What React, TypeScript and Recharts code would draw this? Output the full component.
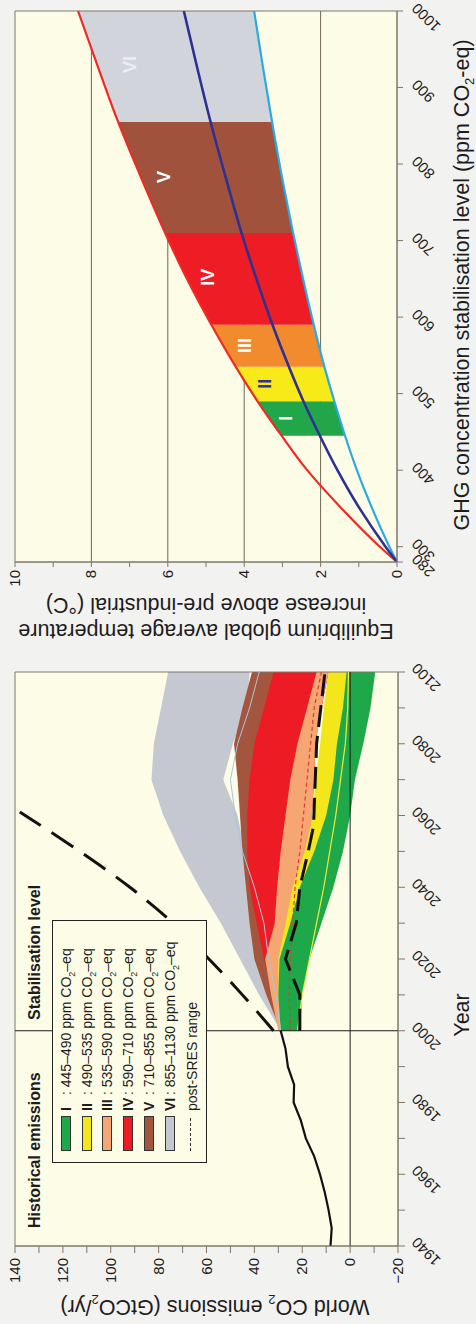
import React from 'react';
import {
  ComposedChart,
  Area,
  Line,
  XAxis,
  YAxis,
  CartesianGrid,
  ReferenceLine,
  ReferenceArea,
  Scatter,
} from 'recharts';

const FONT = '"Liberation Sans", Arial, Helvetica, sans-serif';
const INK = '#1e1c1c';
const FRAME = '#7f7868';
const GRID = '#6f6757';
const PLOT_BG = '#fdfce6';
const PAGE_BG = '#f2f2f0';

// ---------- Left panel: world CO2 emissions (GtCO2/yr) ----------
const historicalYears = [1940, 1945, 1950, 1955, 1960, 1965, 1970, 1975, 1980, 1985, 1990, 1995, 2000];
const historicalEmissions = [8.2, 7.7, 9.0, 10.6, 12.6, 15.0, 18.5, 20.6, 23.6, 23.4, 26.0, 27.0, 29.0];

const scenarioYears = [2000, 2010, 2020, 2030, 2040, 2050, 2060, 2070, 2080, 2090, 2100];
const cat6High = [29, 38, 46, 54, 63, 71, 78, 83, 82, 79, 76];
const cat6Low = [29, 32, 35, 37, 40, 44, 47, 53, 49, 43, 42];
const cat5High = [29, 35, 40, 42, 43.5, 45, 46, 47, 48.5, 45, 41];
const cat5Low = [27, 27, 27, 26, 24, 22, 19, 17, 15, 12, 9];
const cat4High = [29, 32, 36, 39, 42, 43, 43, 42, 40, 36, 32];
const cat4Low = [25, 25, 24, 22, 20, 17.5, 16, 15, 14.5, 12, 9];
const cat3High = [30, 33, 35.5, 31.5, 30.5, 29, 27, 25, 22, 18, 14];
const cat3Low = [25, 25, 24, 22, 20, 17.5, 16, 15, 14.5, 12, 9];
const cat2High = [29, 30, 30, 27, 24, 19, 15.5, 14.5, 12.5, 11, 9];
const cat2Low = [23, 22, 20, 16, 11, 7, 4, 2, 0, -1, -2];
const cat1High = [29, 30, 29.5, 25, 21, 15, 10, 7, 5.5, 3, 1.5];
const cat1Low = [21, 20, 17, 12, 7, 3, 0, -2, -5.5, -8.5, -10.5];

const cat6Median = [29, 31, 34, 36, 40, 45, 48, 50, 47, 42, 38];
const cat3Median = [25, 25.5, 25, 24, 23, 21, 19.5, 18, 16.5, 15, 12];
const cat2Median = [22, 20, 17, 14, 11, 8.5, 6, 4, 2, 1, 0.7];

const postSresLowYears = [2000, 2010, 2020, 2030, 2040, 2050, 2057, 2080, 2100];
const postSresLow = [21, 21, 27, 22.5, 21, 17.5, 15.3, 14, 10.5];
const postSresHighYears = [2000, 2010, 2020, 2030, 2040, 2050, 2061];
const postSresHigh = [32, 45, 59, 74, 92, 113, 138];

const emissionTicks = [-20, -10, 0, 10, 20, 30, 40, 50, 60, 70, 80, 90, 100, 110, 120, 130, 140];
const yearTicks = [1940, 1950, 1960, 1970, 1980, 1990, 2000, 2010, 2020, 2030, 2040, 2050, 2060, 2070, 2080, 2090, 2100];

const categoryNumerals = ['I', 'II', 'III', 'IV', 'V', 'VI'];
const categoryRanges = ['445–490', '490–535', '535–590', '590–710', '710–855', '855–1130'];
const emissionColors = ['#1fa84a', '#f3e61b', '#f5a673', '#ed1c24', '#a3553d', '#c6c8d1'];

// ---------- Right panel: equilibrium temperature vs stabilisation level ----------
const ppmLevels = [280, 300, 350, 400, 445, 490, 535, 590, 650, 710, 780, 855, 930, 1000];
const tempUpper = [0, 0.45, 1.45, 2.35, 3.02, 3.65, 4.22, 4.86, 5.5, 6.07, 6.68, 7.3, 7.85, 8.35];
const tempBest = [0, 0.3, 0.98, 1.56, 2.02, 2.45, 2.83, 3.26, 3.68, 4.07, 4.47, 4.88, 5.25, 5.58];
const tempLower = [0, 0.2, 0.65, 1.05, 1.36, 1.64, 1.9, 2.18, 2.46, 2.72, 3.0, 3.27, 3.52, 3.74];

const categoryBounds = [
  [445, 490],
  [490, 535],
  [535, 590],
  [590, 710],
  [710, 855],
  [855, 1000],
];
const tempColors = ['#21a649', '#f7ea18', '#f28a2e', '#ee1d25', '#a0523c', '#d2d4dc'];
const categoryLabelPpm = [468, 513, 563, 652, 783, 930];
const categoryLabelTemp = [2.9, 3.45, 3.98, 4.95, 6.1, 7.0];
const categoryLabelColors = ['#ffffff', '#2e3192', '#ffffff', '#ffffff', '#ffffff', '#eceef4'];

const tempTicks = [0, 1, 2, 3, 4, 5, 6, 7, 8, 9, 10];
const tempGrid = [2, 4, 6, 8];
const ppmTicks = [280, 300, 400, 500, 600, 700, 800, 900, 1000];

// ---------- table building ----------
type Col = { key: string; xs: number[]; ys: any[] };
function mergeColumns(xKey: string, cols: Col[]) {
  const map = new Map<number, any>();
  cols.forEach((c) =>
    c.xs.forEach((x, i) => {
      if (!map.has(x)) map.set(x, { [xKey]: x });
      map.get(x)[c.key] = c.ys[i];
    })
  );
  return Array.from(map.values()).sort((a, b) => a[xKey] - b[xKey]);
}
const pair = (lo: number[], hi: number[]) => lo.map((l, i) => [l, hi[i]]);

const emissionBands = [
  { key: 'c6', lo: cat6Low, hi: cat6High, color: emissionColors[5] },
  { key: 'c5', lo: cat5Low, hi: cat5High, color: emissionColors[4] },
  { key: 'c4', lo: cat4Low, hi: cat4High, color: emissionColors[3] },
  { key: 'c3', lo: cat3Low, hi: cat3High, color: emissionColors[2] },
  { key: 'c2', lo: cat2Low, hi: cat2High, color: emissionColors[1] },
  { key: 'c1', lo: cat1Low, hi: cat1High, color: emissionColors[0] },
];

const emissionRows = mergeColumns('year', [
  { key: 'hist', xs: historicalYears, ys: historicalEmissions },
  ...emissionBands.map((b) => ({ key: b.key, xs: scenarioYears, ys: pair(b.lo, b.hi) })),
  { key: 'm6', xs: scenarioYears, ys: cat6Median },
  { key: 'm3', xs: scenarioYears, ys: cat3Median },
  { key: 'm2', xs: scenarioYears, ys: cat2Median },
  { key: 'postLow', xs: postSresLowYears, ys: postSresLow },
  { key: 'postHigh', xs: postSresHighYears, ys: postSresHigh },
]);

const tempBandCols: Col[] = categoryBounds.map((b, k) => {
  const idx = ppmLevels.map((p, i) => i).filter((i) => ppmLevels[i] >= b[0] && ppmLevels[i] <= b[1]);
  return {
    key: 'b' + k,
    xs: idx.map((i) => ppmLevels[i]),
    ys: idx.map((i) => [tempLower[i], tempUpper[i]]),
  };
});

const tempRows = mergeColumns('ppm', [
  { key: 'hi', xs: ppmLevels, ys: tempUpper },
  { key: 'best', xs: ppmLevels, ys: tempBest },
  { key: 'lo', xs: ppmLevels, ys: tempLower },
  ...tempBandCols,
]);

const labelPoints = categoryNumerals.map((n, i) => ({
  ppm: categoryLabelPpm[i],
  t: categoryLabelTemp[i],
  name: n,
  color: categoryLabelColors[i],
}));

// ---------- ticks ----------
function YearTick(props: any) {
  const { x, y, payload } = props;
  const v = payload.value;
  if (v % 20 !== 0) return <g />;
  const px = x + 10;
  const py = y + 11;
  return (
    <text x={px} y={py} transform={`rotate(-45 ${px} ${py})`} textAnchor="end" fontSize={15} fontFamily={FONT} fill={INK}>
      {v}
    </text>
  );
}
function EmissionTick(props: any) {
  const { x, y, payload } = props;
  const v = payload.value;
  if (v % 20 !== 0) return <g />;
  return (
    <text x={x - 3} y={y + 5} textAnchor="end" fontSize={15} fontFamily={FONT} fill={INK}>
      {String(v).replace('-', '−')}
    </text>
  );
}
function PpmTick(props: any) {
  const { x, y, payload } = props;
  const px = x + 9;
  const py = y + 13;
  return (
    <text x={px} y={py} transform={`rotate(-45 ${px} ${py})`} textAnchor="end" fontSize={15} fontFamily={FONT} fill={INK}>
      {payload.value}
    </text>
  );
}
function TempTick(props: any) {
  const { x, y, payload } = props;
  const v = payload.value;
  if (v % 2 !== 0) return <g />;
  return (
    <text x={x - 1} y={y + 5} textAnchor="end" fontSize={15} fontFamily={FONT} fill={INK}>
      {v}
    </text>
  );
}
function BandLabel(props: any) {
  const { cx, cy, payload } = props;
  return (
    <text x={cx} y={cy} textAnchor="middle" dominantBaseline="central" fontSize={18} fontWeight="bold" fontFamily={FONT} fill={payload.color}>
      {payload.name}
    </text>
  );
}

const Sub = ({ children, size = 13 }: any) => (
  <span style={{ fontSize: size, verticalAlign: 'sub', lineHeight: 0 }}>{children}</span>
);

function EmissionsChart() {
  return (
    <div style={{ position: 'absolute', left: 0, top: 0, width: 700, height: 476 }}>
      <ComposedChart width={700} height={476} data={emissionRows} margin={{ top: 15, right: 48, bottom: 18, left: 18 }}>
        <CartesianGrid fill={PLOT_BG} horizontal={false} vertical={false} stroke="none" />
        <XAxis
          type="number"
          dataKey="year"
          domain={[1940, 2100]}
          ticks={yearTicks}
          interval={0}
          tickSize={7}
          height={60}
          allowDataOverflow
          axisLine={{ stroke: FRAME }}
          tickLine={{ stroke: FRAME }}
          tick={(p: any) => <YearTick {...p} />}
        />
        <YAxis
          type="number"
          domain={[-20, 140]}
          ticks={emissionTicks}
          interval={0}
          tickSize={7}
          width={60}
          allowDataOverflow
          axisLine={{ stroke: FRAME }}
          tickLine={{ stroke: FRAME }}
          tick={(p: any) => <EmissionTick {...p} />}
        />
        {emissionBands.map((b) => (
          <Area
            key={b.key}
            dataKey={b.key}
            type="linear"
            fill={b.color}
            fillOpacity={1}
            stroke="none"
            connectNulls
            isAnimationActive={false}
            activeDot={false}
          />
        ))}
        <Line dataKey="m6" type="linear" stroke="#a9c6de" strokeWidth={1} dot={false} activeDot={false} connectNulls isAnimationActive={false} />
        <Line dataKey="m2" type="linear" stroke="#f4ea3a" strokeWidth={1.2} dot={false} activeDot={false} connectNulls isAnimationActive={false} />
        <Line dataKey="m3" type="linear" stroke="#e8382c" strokeWidth={1.2} strokeDasharray="4 3" dot={false} activeDot={false} connectNulls isAnimationActive={false} />
        <ReferenceLine y={0} stroke={INK} strokeWidth={1} />
        <ReferenceLine x={2000} stroke={INK} strokeWidth={1} />
        <Line dataKey="postLow" type="linear" stroke="#111" strokeWidth={3} strokeDasharray="22 9" dot={false} activeDot={false} connectNulls isAnimationActive={false} />
        <Line dataKey="postHigh" type="monotone" stroke="#111" strokeWidth={3} strokeDasharray="26 13" dot={false} activeDot={false} connectNulls isAnimationActive={false} />
        <Line dataKey="hist" type="linear" stroke="#111" strokeWidth={2.2} dot={false} activeDot={false} isAnimationActive={false} />
        <ReferenceArea x1={1940} x2={2100} y1={-20} y2={140} fill="none" stroke={FRAME} strokeWidth={1} />
      </ComposedChart>
    </div>
  );
}

function TemperatureChart() {
  return (
    <div style={{ position: 'absolute', left: 700, top: 0, width: 624, height: 476 }}>
      <ComposedChart width={624} height={476} data={tempRows} margin={{ top: 15, right: 11, bottom: 19, left: 12 }}>
        <CartesianGrid fill={PLOT_BG} vertical={false} stroke={GRID} strokeWidth={1} horizontalValues={tempGrid} />
        <XAxis
          type="number"
          dataKey="ppm"
          domain={[280, 1000]}
          ticks={ppmTicks}
          interval={0}
          tickSize={6}
          height={60}
          allowDataOverflow
          axisLine={{ stroke: FRAME }}
          tickLine={{ stroke: FRAME }}
          tick={(p: any) => <PpmTick {...p} />}
        />
        <YAxis
          type="number"
          dataKey="t"
          domain={[0, 10]}
          ticks={tempTicks}
          interval={0}
          tickSize={5}
          width={50}
          allowDataOverflow
          axisLine={{ stroke: FRAME }}
          tickLine={{ stroke: FRAME }}
          tick={(p: any) => <TempTick {...p} />}
        />
        {tempBandCols.map((c, k) => (
          <Area
            key={c.key}
            dataKey={c.key}
            type="linear"
            fill={tempColors[k]}
            fillOpacity={1}
            stroke="none"
            isAnimationActive={false}
            activeDot={false}
          />
        ))}
        <Line dataKey="lo" type="monotone" stroke="#29abe2" strokeWidth={2.2} dot={false} activeDot={false} isAnimationActive={false} />
        <Line dataKey="hi" type="monotone" stroke="#ee2a24" strokeWidth={2.2} dot={false} activeDot={false} isAnimationActive={false} />
        <Line dataKey="best" type="monotone" stroke="#2e3192" strokeWidth={2.6} dot={false} activeDot={false} isAnimationActive={false} />
        <Scatter data={labelPoints} dataKey="t" shape={(p: any) => <BandLabel {...p} />} isAnimationActive={false} />
        <ReferenceArea x1={280} x2={1000} y1={0} y2={10} fill="none" stroke={FRAME} strokeWidth={1} />
      </ComposedChart>
    </div>
  );
}

function Legend() {
  const rowCenters = [65, 85.5, 106, 127, 147.5, 169];
  return (
    <div
      style={{
        position: 'absolute',
        left: 161,
        top: 52,
        width: 243,
        height: 155,
        boxSizing: 'border-box',
        border: '1.2px solid #222',
        background: PLOT_BG,
        fontSize: 14,
        color: INK,
      }}
    >
      {categoryNumerals.map((n, i) => (
        <React.Fragment key={n}>
          <div
            style={{
              position: 'absolute',
              left: 11,
              top: rowCenters[i] - 52 - 5,
              width: 33,
              height: 8,
              background: emissionColors[i],
              border: '1px solid #333',
            }}
          />
          <div
            style={{
              position: 'absolute',
              left: 51,
              top: rowCenters[i] - 52 - 10,
              height: 20,
              lineHeight: '20px',
              whiteSpace: 'nowrap',
            }}
          >
            <span style={{ display: 'inline-block', width: 16, fontWeight: 'bold' }}>{n}</span>
            : {categoryRanges[i]} ppm CO<Sub size={9}>2</Sub>–eq
          </div>
        </React.Fragment>
      ))}
      <div
        style={{
          position: 'absolute',
          left: 11,
          top: 190 - 52 - 1,
          width: 33,
          height: 0,
          borderTop: '1.5px dashed #333',
        }}
      />
      <div
        style={{
          position: 'absolute',
          left: 51,
          top: 191 - 52 - 10,
          height: 20,
          lineHeight: '20px',
          whiteSpace: 'nowrap',
        }}
      >
        post-SRES range
      </div>
    </div>
  );
}

export default function App() {
  const title: React.CSSProperties = {
    position: 'absolute',
    fontSize: 21.5,
    color: INK,
    textAlign: 'center',
    whiteSpace: 'nowrap',
  };
  return (
    <div
      style={{
        position: 'absolute',
        left: 0,
        top: 0,
        width: 476,
        height: 1324,
        overflow: 'hidden',
        background: PAGE_BG,
        fontFamily: FONT,
      }}
    >
      <div
        style={{
          position: 'absolute',
          left: 0,
          top: 0,
          width: 1324,
          height: 476,
          transformOrigin: '0 0',
          transform: 'translate(0px, 1324px) rotate(-90deg)',
        }}
      >
        <EmissionsChart />
        <TemperatureChart />

        {/* emissions panel texts */}
        <div style={{ ...title, left: 17 - 200, top: 215 - 13, width: 400, height: 26, lineHeight: '26px', transform: 'rotate(-90deg)' }}>
          World CO<Sub>2</Sub> emissions (GtCO<Sub>2</Sub>/yr)
        </div>
        <div style={{ ...title, left: 309 - 50, top: 462 - 13, width: 100, height: 26, lineHeight: '26px' }}>Year</div>
        <div style={{ position: 'absolute', left: 96, top: 25, fontSize: 16, fontWeight: 'bold', color: INK, whiteSpace: 'nowrap', lineHeight: '20px' }}>
          Historical emissions
        </div>
        <div style={{ position: 'absolute', left: 304, top: 25, fontSize: 16, fontWeight: 'bold', color: INK, whiteSpace: 'nowrap', lineHeight: '20px' }}>
          Stabilisation level
        </div>
        <Legend />

        {/* temperature panel texts */}
        <div style={{ ...title, left: 706 - 220, top: 206 - 26, width: 440, height: 52, lineHeight: '26px', transform: 'rotate(-90deg)' }}>
          Equilibrium global average temperature
          <br />
          increase above pre-industrial (°C)
        </div>
        <div style={{ ...title, left: 1039 - 280, top: 462 - 13, width: 560, height: 26, lineHeight: '26px' }}>
          GHG concentration stabilisation level (ppm CO<Sub>2</Sub>-eq)
        </div>
      </div>
    </div>
  );
}
